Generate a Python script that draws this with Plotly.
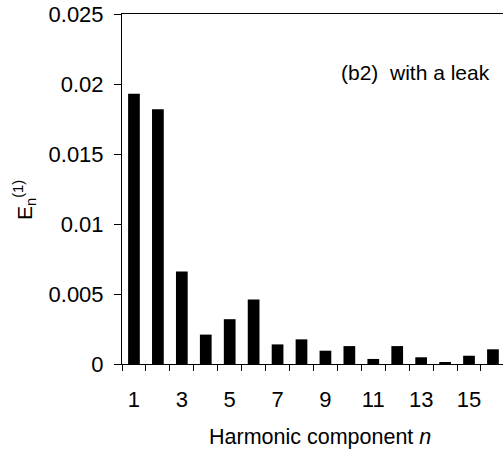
import plotly.graph_objects as go

harmonic_n = list(range(1, 17))
energy = [0.0193, 0.0182, 0.0066, 0.0021, 0.0032, 0.0046, 0.0014, 0.00176,
          0.00095, 0.00128, 0.00036, 0.00128, 0.00048, 0.00014, 0.00059, 0.00105]
x_tick_vals = [1, 3, 5, 7, 9, 11, 13, 15]
y_tick_vals = [0, 0.005, 0.01, 0.015, 0.02, 0.025]
y_tick_text = ["0", "0.005", "0.01", "0.015", "0.02", "0.025"]

FONT = "Liberation Sans, Arial, sans-serif"

fig = go.Figure()
fig.add_trace(go.Bar(x=harmonic_n, y=energy, width=0.49,
                     marker=dict(color="black", line=dict(width=0)),
                     showlegend=False))

fig.update_layout(
    width=503, height=454,
    margin=dict(l=122, r=0, t=14, b=90),
    paper_bgcolor="white", plot_bgcolor="white",
    font=dict(family=FONT, color="black", size=22),
    xaxis=dict(range=[0.5, 16.42], showgrid=False, zeroline=False,
               showline=True, linecolor="black", linewidth=1, mirror=True,
               tickmode="array", tickvals=x_tick_vals,
               ticks="outside", ticklen=6, tickcolor="rgba(0,0,0,0)",
               ticklabelstandoff=10,
               tickfont=dict(size=22, family=FONT),
               minor=dict(tickmode="array",
                          tickvals=[i + 0.5 for i in range(0, 17)],
                          ticks="outside", ticklen=6, tickcolor="black",
                          tickwidth=1, showgrid=False)),
    yaxis=dict(range=[0, 0.025], showgrid=False, zeroline=False,
               showline=True, linecolor="black", linewidth=1,
               tickmode="array", tickvals=y_tick_vals, ticktext=y_tick_text,
               ticks="outside", ticklen=7, tickcolor="black",
               ticklabelstandoff=6,
               tickfont=dict(size=22, family=FONT)),
    annotations=[
        dict(text="Harmonic component <i>n</i>", xref="paper", yref="paper",
             x=(320 - 122) / 381, y=-(437 - 364) / 350, xanchor="center",
             yanchor="middle", showarrow=False, font=dict(size=21.5, family=FONT)),
        dict(text="(b2)  with a leak", xref="paper", yref="paper",
             x=(492 - 122) / 381, y=(364 - 72) / 350, xanchor="right",
             yanchor="middle", showarrow=False, font=dict(size=21, family=FONT)),
        dict(text="E<sub>n</sub><sup>(1)</sup>", xref="paper", yref="paper",
             x=-(122 - 25) / 381, y=(364 - 200) / 350, xanchor="center",
             yanchor="middle", textangle=-90, showarrow=False,
             font=dict(size=21, family=FONT)),
    ],
)

fig.write_html("out.html")
